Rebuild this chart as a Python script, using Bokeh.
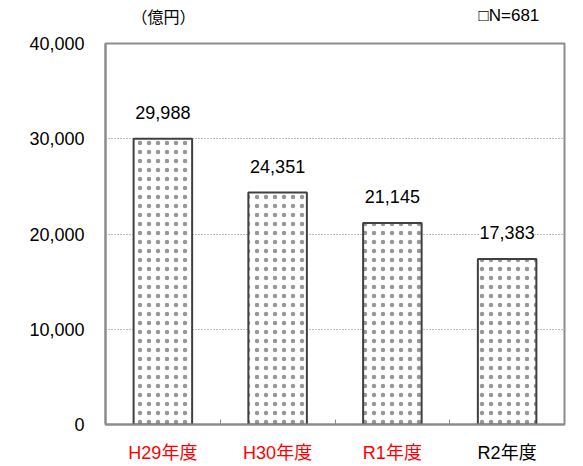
from bokeh.plotting import figure
from bokeh.layouts import column
from bokeh.models import (ColumnDataSource, Range1d, LinearAxis, FixedTicker,
                          LabelSet, NumeralTickFormatter, Grid)
from bokeh.core.properties import value
from bokeh.embed import file_html
from bokeh.resources import INLINE

categories = ["H29年度", "H30年度", "R1年度", "R2年度"]
amounts = [29988, 24351, 21145, 17383]
cat_colors = ["#ff0000", "#ff0000", "#ff0000", "#000000"]
y_ticks = [0, 10000, 20000, 30000, 40000]
unit_label = "（億円）"
n_label = "□N=681"

NUM_FONT = "'Liberation Sans', 'Noto Sans CJK JP', sans-serif"
CJK_FONT = "'Noto Sans CJK JP', sans-serif"

W = 583
LEFT, RIGHT = 105, 19

xs = [i + 0.5 for i in range(len(categories))]
src = ColumnDataSource(dict(
    x=xs, y=amounts, zero=[0] * len(amounts),
    lbl=[f"{v:,}" for v in amounts], cat=categories, col=cat_colors,
))

# ---- header strip (unit + sample size) ----
head = figure(width=W, height=30, output_backend="svg", toolbar_location=None,
              x_range=Range1d(0, W), y_range=Range1d(30, 0),
              x_axis_type=None, y_axis_type=None, min_border=0,
              min_border_left=0, min_border_right=0, min_border_top=0, min_border_bottom=0)
head.outline_line_color = None
head.grid.visible = False
head.text(x=[33], y=[15], text=[unit_label], text_align="left", text_baseline="middle",
          text_font=value(CJK_FONT), text_font_size="16px", text_color="#000000")
head.text(x=[551], y=[15], text=[n_label], text_align="right", text_baseline="middle",
          text_font=value(NUM_FONT), text_font_size="17px", text_color="#000000")

# ---- main chart ----
p = figure(width=W, height=406, output_backend="svg", toolbar_location=None,
           x_range=Range1d(0, len(categories)), y_range=Range1d(0, 40000),
           x_axis_type=None, y_axis_type=None, min_border=0,
           min_border_left=LEFT, min_border_right=RIGHT, min_border_top=13, min_border_bottom=12)
p.background_fill_color = "white"
p.border_fill_color = "white"
p.outline_line_color = "#8c8c8c"
p.outline_line_width = 2

yax = LinearAxis(ticker=FixedTicker(ticks=y_ticks),
                 formatter=NumeralTickFormatter(format="0,0"))
yax.major_tick_line_color = None
yax.minor_tick_line_color = None
yax.axis_line_color = "#8c8c8c"
yax.axis_line_width = 2
yax.major_label_text_font = NUM_FONT
yax.major_label_text_font_size = "18px"
yax.major_label_text_color = "#000000"
yax.major_label_standoff = 15
p.add_layout(yax, "left")

xax = LinearAxis(ticker=FixedTicker(ticks=[], minor_ticks=list(range(1, len(categories)))))
xax.major_tick_line_color = None
xax.minor_tick_in = 5
xax.minor_tick_out = 0
xax.minor_tick_line_color = "#8c8c8c"
xax.minor_tick_line_width = 1
xax.axis_line_color = "#8c8c8c"
xax.axis_line_width = 2
xax.major_label_standoff = 0
p.add_layout(xax, "below")

grid = Grid(dimension=1, ticker=FixedTicker(ticks=y_ticks[1:-1]),
            grid_line_color="#808080", grid_line_dash="1 2", grid_line_width=1)
p.add_layout(grid)

p.vbar(x="x", top="y", width=0.51, source=src,
       fill_color="white", line_color="#404040", line_width=2,
       hatch_pattern=".", hatch_scale=9, hatch_weight=1,
       hatch_color="#303030", hatch_alpha=0.5)

vals = LabelSet(x="x", y="y", text="lbl", source=src, text_align="center",
                text_baseline="alphabetic", y_offset=20, text_font=value(NUM_FONT),
                text_font_size="18px", text_color="#000000",
                background_fill_color="white")
p.add_layout(vals)

# ---- footer strip (category labels, sharing the x scale) ----
foot = figure(width=W, height=30, output_backend="svg", toolbar_location=None,
              x_range=p.x_range, y_range=Range1d(-14, 16),
              x_axis_type=None, y_axis_type=None, min_border=0,
              min_border_left=LEFT, min_border_right=RIGHT, min_border_top=0, min_border_bottom=0)
foot.outline_line_color = None
foot.grid.visible = False
foot.text(x="x", y="zero", text="cat", source=src, text_align="center",
          text_baseline="middle", text_font=value(NUM_FONT),
          text_font_size="18px", text_color="col")

layout = column(head, p, foot, spacing=0)
open("out.html", "w").write(file_html(layout, INLINE))
